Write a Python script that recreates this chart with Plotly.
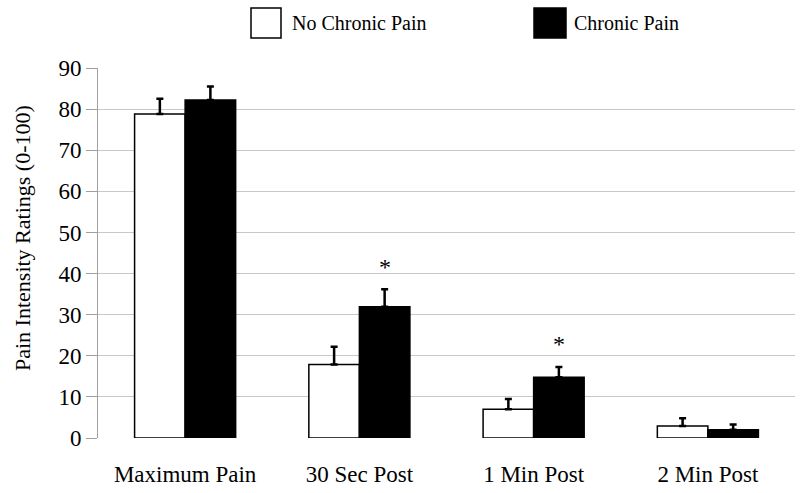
import plotly.graph_objects as go

categories = ["Maximum Pain", "30 Sec Post", "1 Min Post", "2 Min Post"]
no_chronic = [78.8, 17.9, 7.0, 2.9]
no_chronic_err = [3.7, 4.3, 2.5, 1.9]
chronic = [82.2, 31.9, 14.8, 2.0]
chronic_err = [3.3, 4.3, 2.5, 1.3]
significant = [False, True, True, False]
y_ticks = [0, 10, 20, 30, 40, 50, 60, 70, 80, 90]

FONT = "Liberation Serif, Times New Roman, serif"
bw = 0.29
xs = list(range(len(categories)))

L, R, T, B = 98, 5, 68, 55
PW, PH = 800 - L - R, 493 - T - B


def px(xp):
    return (xp - L) / PW


def py(yp):
    return (493 - B - yp) / PH


fig = go.Figure()
fig.add_trace(go.Bar(
    x=xs, y=no_chronic, width=bw, offset=-bw, name="No Chronic Pain",
    marker=dict(color="white", line=dict(color="black", width=1.5)),
    error_y=dict(type="data", symmetric=False, array=no_chronic_err,
                 arrayminus=[0] * len(no_chronic), color="black", thickness=2.5, width=3.5),
    showlegend=False,
))
fig.add_trace(go.Bar(
    x=xs, y=chronic, width=bw, offset=0, name="Chronic Pain",
    marker=dict(color="black", line=dict(color="black", width=1.5)),
    error_y=dict(type="data", symmetric=False, array=chronic_err,
                 arrayminus=[0] * len(chronic), color="black", thickness=2.5, width=3.5),
    showlegend=False,
))

for i, sig in enumerate(significant):
    if sig:
        fig.add_annotation(x=i + bw / 2, y=chronic[i] + chronic_err[i] + 5.5,
                           text="*", showarrow=False, yanchor="middle",
                           font=dict(family=FONT, size=24, color="black"))

# legend drawn manually
fig.add_shape(type="rect", xref="paper", yref="paper",
              x0=px(251), x1=px(281), y0=py(38), y1=py(8),
              fillcolor="white", line=dict(color="black", width=1.5))
fig.add_annotation(xref="paper", yref="paper", x=px(290), y=py(23),
                   text="No Chronic Pain", showarrow=False, xanchor="left", yanchor="middle",
                   font=dict(family=FONT, size=20, color="black"))
fig.add_shape(type="rect", xref="paper", yref="paper",
              x0=px(534), x1=px(566), y0=py(38), y1=py(8),
              fillcolor="black", line=dict(color="black", width=1.5))
fig.add_annotation(xref="paper", yref="paper", x=px(572), y=py(23),
                   text="Chronic Pain", showarrow=False, xanchor="left", yanchor="middle",
                   font=dict(family=FONT, size=20, color="black"))

# y-axis title
fig.add_annotation(xref="paper", yref="paper", x=px(22), y=py(238),
                   text="Pain Intensity Ratings (0-100)", showarrow=False, textangle=-90,
                   xanchor="center", yanchor="middle",
                   font=dict(family=FONT, size=22, color="black"))

fig.update_layout(
    width=800, height=493,
    margin=dict(l=L, r=R, t=T, b=B),
    plot_bgcolor="white", paper_bgcolor="white",
    font=dict(family=FONT, size=19, color="black"),
    xaxis=dict(range=[-0.5, 3.5], tickvals=xs, ticktext=categories,
               showgrid=False, zeroline=False, showline=False, automargin=False,
               ticks="outside", ticklen=15, tickcolor="rgba(0,0,0,0)",
               tickfont=dict(family=FONT, size=23)),
    yaxis=dict(range=[0, 90], tickvals=y_ticks, showgrid=True, gridcolor="#c8c8c8",
               gridwidth=1, zeroline=False, showline=True, linecolor="#a0a0a0", linewidth=1,
               automargin=False,
               ticks="outside", ticklen=11, tickcolor="#a0a0a0",
               tickfont=dict(family=FONT, size=23)),
)

fig.write_html("out.html", config={"displayModeBar": False},
               post_script="document.body.style.margin='0';document.body.style.overflow='hidden';")
